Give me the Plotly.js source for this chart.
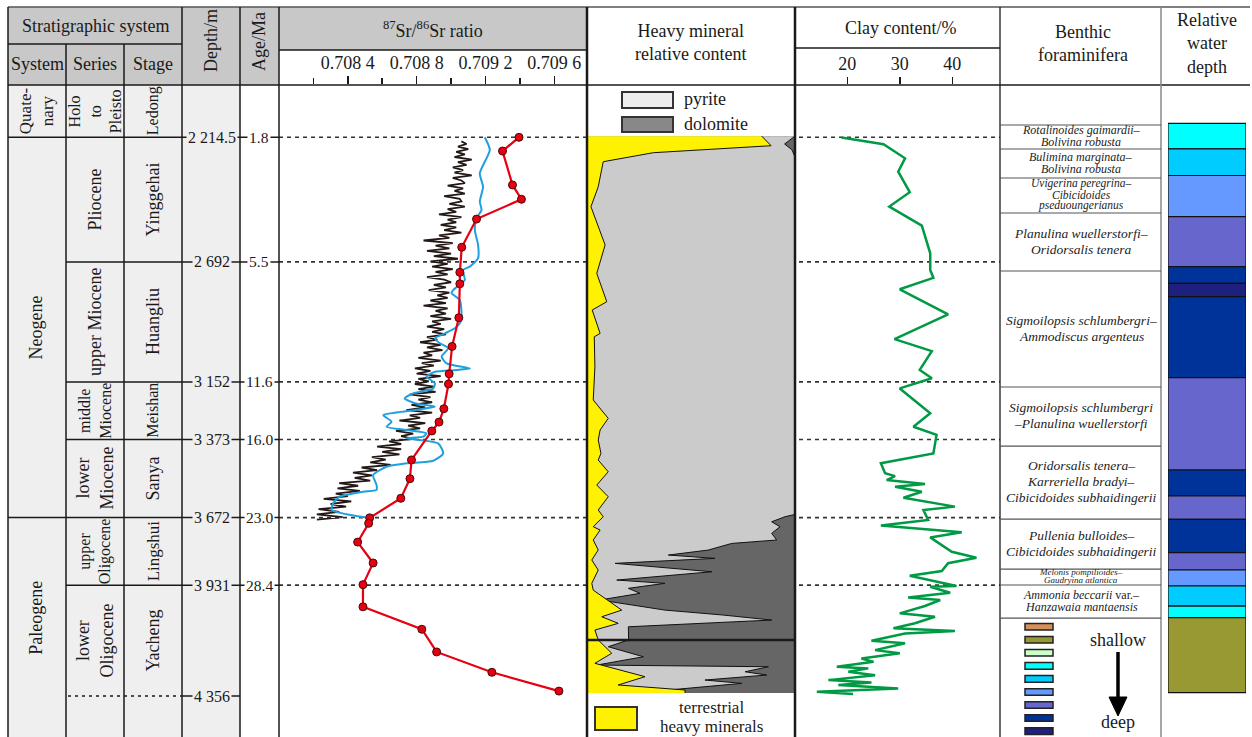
<!DOCTYPE html>
<html><head><meta charset="utf-8">
<script src="https://cdn.plot.ly/plotly-3.0.1.min.js"></script>
<style>html,body{margin:0;padding:0;background:#fff}#chart{width:1252px;height:737px}</style>
</head><body><div id="chart"></div>
<script>
// ---------------- DATA ----------------
const horizonDepth = [2214.5, 2692, 3152, 3373, 3672, 3931];
const horizonAge = [1.8, 5.5, 11.6, 16.0, 23.0, 28.4];
const baseDepth = 4356;

const systemNames = ['Quate-<br>nary', 'Neogene', 'Paleogene'];
const systemTops = [2014, 2214.5, 3672];
const systemBottoms = [2214.5, 3672, 4440];
const seriesNames = ['Holo<br>to<br>Pleisto', 'Pliocene', 'upper Miocene', 'middle<br>Miocene', 'lower<br>Miocene', 'upper<br>Oligocene', 'lower<br>Oligocene'];
const stageNames = ['Ledong', 'Yinggehai', 'Huangliu', 'Meishan', 'Sanya', 'Lingshui', 'Yacheng'];
const unitTops = [2014, 2214.5, 2692, 3152, 3373, 3672, 3931];
const unitBottoms = [2214.5, 2692, 3152, 3373, 3672, 3931, 4356];

const srTickVals = [0.7084, 0.7088, 0.7092, 0.7096];
const srMinorVals = [0.7082, 0.7086, 0.7090, 0.7094];

const srBlackDepth = [
2230,2240,2250,2260,2270,2280,2290,2300,2310,2320,
2330,2340,2350,2360,2370,2380,2390,2400,2410,2420,
2430,2440,2450,2460,2470,2480,2490,2500,2510,2520,
2530,2540,2550,2560,2570,2580,2590,2600,2610,2620,
2630,2640,2650,2660,2670,2680,2690,2700,2710,2720,
2730,2740,2750,2760,2770,2780,2790,2800,2810,2820,
2830,2840,2850,2860,2870,2880,2890,2900,2910,2920,
2930,2940,2950,2960,2970,2980,2990,3000,3010,3020,
3030,3040,3050,3060,3070,3080,3090,3100,3110,3120,
3130,3140,3150,3160,3170,3180,3190,3200,3210,3220,
3230,3240,3250,3260,3270,3280,3290,3300,3310,3320,
3330,3340,3350,3360,3370,3380,3390,3400,3410,3420,
3430,3440,3450,3460,3470,3480,3490,3500,3510,3520,
3530,3540,3550,3560,3570,3580,3590,3600,3610,3620,
3630,3640,3650,3660,3670,3680];
const srBlackRatio = [
0.70906,0.70909,0.70904,0.70910,0.70903,0.70908,0.70902,0.70912,0.70904,0.70909,
0.70901,0.70907,0.70902,0.70912,0.70901,0.70906,0.70908,0.70898,0.70907,0.70902,
0.70908,0.70896,0.70905,0.70906,0.70899,0.70908,0.70898,0.70903,0.70893,0.70906,
0.70898,0.70903,0.70894,0.70903,0.70896,0.70906,0.70893,0.70899,0.70884,0.70901,
0.70891,0.70899,0.70886,0.70900,0.70890,0.70904,0.70888,0.70898,0.70889,0.70901,
0.70891,0.70898,0.70886,0.70896,0.70900,0.70890,0.70897,0.70887,0.70899,0.70892,
0.70898,0.70888,0.70897,0.70884,0.70898,0.70891,0.70897,0.70888,0.70900,0.70889,
0.70894,0.70886,0.70896,0.70889,0.70897,0.70886,0.70892,0.70882,0.70894,0.70886,
0.70895,0.70884,0.70889,0.70881,0.70894,0.70883,0.70890,0.70879,0.70888,0.70880,
0.70894,0.70881,0.70887,0.70879,0.70890,0.70881,0.70891,0.70876,0.70888,0.70881,
0.70889,0.70877,0.70885,0.70874,0.70889,0.70876,0.70882,0.70870,0.70885,0.70875,
0.70882,0.70868,0.70878,0.70871,0.70878,0.70864,0.70871,0.70857,0.70871,0.70860,
0.70870,0.70854,0.70862,0.70853,0.70865,0.70848,0.70857,0.70843,0.70854,0.70844,
0.70853,0.70835,0.70846,0.70834,0.70847,0.70833,0.70840,0.70826,0.70842,0.70830,
0.70839,0.70823,0.70835,0.70822,0.70837,0.70822];

const srBlueDepth = [2214.5,2263,2352.5,2404,2461,2493,2525,2570,2627,2678,2710,2723,2761.5,2774,2800,2812.5,2838,2902,2927.5,2946.5,2966,2985,3004,3023,3055,3081,3100,3106.5,3113,3132,3157.5,3177,3196,3215,3234,3247,3260,3279,3304.5,3324,3336.5,3349,3362,3368,3387.5,3426,3454,3464,3477,3509,3547,3566,3573,3592,3617,3643,3659.5,3672];
const srBlueRatio = [0.709196,0.709225,0.709167,0.709186,0.709167,0.709177,0.709148,0.709138,0.709157,0.709157,0.709109,0.70907,0.70908,0.709061,0.709012,0.709003,0.709051,0.709061,0.709051,0.709022,0.708964,0.708906,0.708935,0.708983,0.708945,0.708974,0.709109,0.709032,0.708906,0.708857,0.708906,0.708896,0.70878,0.708731,0.70879,0.708906,0.70879,0.708606,0.708654,0.708625,0.708741,0.708857,0.708838,0.708741,0.708925,0.708954,0.708896,0.708741,0.708625,0.708547,0.708567,0.708567,0.708489,0.708354,0.708315,0.708306,0.708393,0.708509];

const srRedDepth = [2214.5,2267,2397,2452,2528,2636,2732,2776,2906,3016,3121,3160,3255,3306,3340,3451,3523,3598,3673,3694,3766,3846,3929,4014,4100,4187,4265,4337];
const srRedRatio = [0.709395,0.709299,0.709357,0.709409,0.709148,0.709062,0.709051,0.709051,0.709045,0.709006,0.708989,0.708985,0.708958,0.70893,0.708888,0.70877,0.708761,0.708708,0.708527,0.708521,0.708457,0.708547,0.708488,0.708488,0.70883,0.708916,0.709237,0.709627];

const terrDepth = [2210,2246.7,2273.5,2308,2404,2480.5,2627,2736,2844.6,2876.5,2966,2979,3094,3221.5,3291.6,3336.4,3374.8,3425.8,3451.5,3496.3,3547.3,3592,3643,3668.7,3707,3719.7,3758,3796.3,3834.6,3873,3924,3950,4026.6,4052,4077.4,4103,4141,4192,4230.6,4281.8,4313.6,4332.8,4344];
const terrPct = [84,88.5,31.9,7.8,5.4,1.9,8.7,4.7,9.5,2.5,6.3,3.5,3.8,3.0,10.2,6.3,5.4,6.7,5.4,10.2,4.7,10.2,5.4,7.8,3.0,6.3,3.0,5.4,2.3,5.4,2.3,3.0,16.7,7.1,15.0,3.8,5.4,11.9,3.8,27.9,15.0,47.1,47.1];
const dolDepth = [2210,2218,2240,2262,2290,3660,3668.7,3688,3707,3732.5,3758,3771,3796.5,3815.6,3828.3,3847.5,3879.7,3911.5,3924,3943.2,3962.4,3988,4026.6,4045.6,4064.8,4090.5,4128.8,4141,4167,4205.4,4237.3,4243.7,4262.9,4275.5,4294.7,4307.4,4333,4344];
const dolPct = [0,1.5,5,1.5,0,0,4.8,11.2,7.2,11.2,8.8,30.4,41.7,60.9,38.5,86.5,40.0,85.7,62.5,80.1,74.5,93.8,62.5,34.5,11.2,80.1,80.1,80,89.8,72.9,95.3,12.8,24.0,13.6,43.3,25.6,60.9,61];
const mineralBreakDepth = [4141];

const clayTicks = [20, 30, 40];
const clayDepth = [2215,2241,2295,2346,2425,2480,2553,2659,2723,2753,2797,2893,2988,3034,3106,3138,3177,3272,3324,3355,3426,3464,3502,3513,3528,3543,3554,3573,3596,3630,3643,3681,3702,3728,3748,3803,3826,3847,3877,3895,3934,3937,3960,3978,3988,4011,4039,4052,4077,4096,4107,4116,4144,4154,4180,4192,4212,4225,4244,4250,4263,4276,4295,4304,4314,4327,4340,4348];
const clayValue = [18.9,26.9,31.0,29.7,31.9,28.0,34.2,35.8,35.8,36.4,30.0,39.2,29.0,36.1,33.8,36.1,30.0,35.8,32.6,37.0,36.4,26.4,27.2,29.1,27.5,34.8,29.1,34.2,30.7,40.5,34.5,35.4,26.4,41.8,35.8,39.9,44.6,39.2,38.0,31.9,40.8,35.8,39.6,31.6,37.7,34.8,30.0,36.7,32.9,28.8,40.5,31.0,24.6,31.0,25.3,30.0,22.7,25.0,18.0,24.0,20.2,25.3,16.4,24.6,18.3,29.7,14.2,21.1];

const foramBounds = [2167.4, 2259.3, 2370.5, 2504.6, 2727, 3171.6, 3397.8, 3677.6, 3869.2, 3930.5, 4057];
const foramNames = [
  ['Rotalinoides gaimardii–', 'Bolivina robusta'],
  ['Bulimina marginata–', 'Bolivina robusta'],
  ['Uvigerina peregrina–', 'Cibicidoides', 'pseduoungerianus'],
  ['Planulina wuellerstorfi–', 'Oridorsalis tenera'],
  ['Sigmoilopsis schlumbergri–', 'Ammodiscus argenteus'],
  ['Sigmoilopsis schlumbergri', '–Planulina wuellerstorfi'],
  ['Oridorsalis tenera–', 'Karreriella bradyi–', 'Cibicidoides subhaidingerii'],
  ['Pullenia bulloides–', 'Cibicidoides subhaidingerii'],
  ['Melonis pompilioides–', 'Gaudryina atlantica'],
  ['Ammonia beccarii| var.–', 'Hanzawaia mantaensis']
];

const wdTop = [2160.8, 2258.5, 2360.9, 2518.8, 2710.4, 2774, 2825.4, 3135.2, 3489.7, 3589.3, 3678.7, 3806.7, 3873, 3934.3, 4011, 4055.1];
const wdBottom = [2258.5, 2360.9, 2518.8, 2710.4, 2774, 2825.4, 3135.2, 3489.7, 3589.3, 3678.7, 3806.7, 3873, 3934.3, 4011, 4055.1, 4343.2];
const wdColor = ['#00ffff', '#00ccff', '#6699ff', '#6666cc', '#003399', '#1f1f7f', '#003399', '#6666cc', '#003399', '#6666cc', '#003399', '#6666cc', '#6699ff', '#00ccff', '#00ffff', '#999933'];
const wdLegendColors = ['#d4915a', '#999933', '#ccffcc', '#00ffff', '#00ccff', '#6699ff', '#6666cc', '#003399', '#1f1f7f'];

// ---------------- LAYOUT HELPERS ----------------
const W = 1252, H = 737;
const X = p => p / W;
const Y = p => 1 - p / H;
const FONT = '"Liberation Serif", "Times New Roman", Times, serif';
const INK = '#1a1a1a';
const PX_PER_M = 652 / (4513 - 2014);

const shapes = [];
const annotations = [];
function ln(x0, y0, x1, y1, o) {
  shapes.push(Object.assign({type: 'line', xref: 'paper', yref: 'paper', x0: X(x0), y0: Y(y0), x1: X(x1), y1: Y(y1), line: {color: INK, width: 1.5}, layer: 'above'}, o || {}));
}
function lnD(x0, d, x1, o) {
  shapes.push(Object.assign({type: 'line', xref: 'paper', yref: 'y', x0: X(x0), y0: d, x1: X(x1), y1: d, line: {color: INK, width: 1.5}, layer: 'above'}, o || {}));
}
function rect(x0, y0, x1, y1, fill, o) {
  shapes.push(Object.assign({type: 'rect', xref: 'paper', yref: 'paper', x0: X(x0), y0: Y(y0), x1: X(x1), y1: Y(y1), fillcolor: fill, line: {width: 0}, layer: 'below'}, o || {}));
}
function ann(x, y, text, o) {
  annotations.push(Object.assign({xref: 'paper', yref: 'paper', x: X(x), y: Y(y), text: text, showarrow: false, xanchor: 'center', yanchor: 'middle', font: {family: FONT, size: 18, color: INK}}, o || {}));
}
function annD(x, d, text, o) {
  annotations.push(Object.assign({xref: 'paper', yref: 'y', x: X(x), y: d, text: text, showarrow: false, xanchor: 'center', yanchor: 'middle', font: {family: FONT, size: 18, color: INK}}, o || {}));
}
function fmtDepth(v) {
  const parts = String(v).split('.');
  const i = parts[0];
  const g = i.length > 3 ? i.slice(0, i.length - 3) + ' ' + i.slice(-3) : i;
  return parts.length > 1 ? g + '.' + parts[1] : g;
}
function fmtSr(v) {
  const s = v.toFixed(4);
  return s.slice(0, -1) + ' ' + s.slice(-1);
}

// ---------------- TABLE BACKGROUNDS ----------------
const HEAD = '#c8c8c8';
rect(8, 7, 182, 44, HEAD);
rect(8, 44, 182, 85, HEAD);
rect(182, 7, 240, 85, HEAD);
rect(240, 7, 279, 85, HEAD);
rect(279, 7, 587, 50, HEAD);
rect(8, 85, 240, 737, '#efefef');

// ---------------- HORIZON DOTTED LINES ----------------
horizonDepth.forEach(d => {
  lnD(279, d, 1000, {line: {color: '#333', width: 1.6, dash: '4px,4px'}, layer: 'below'});
});

// ---------------- TABLE LINES ----------------
ln(8, 7, 1250, 7, {line: {color: '#555', width: 1.5}});
ln(8, 44, 182, 44);
ln(8, 85, 1250, 85);
ln(279, 50, 587, 50);
ln(795, 48, 1000, 48);
ln(8, 7, 8, 737);
ln(66, 44, 66, 737);
ln(124, 44, 124, 737);
ln(182, 7, 182, 737);
ln(240, 7, 240, 737);
ln(279, 7, 279, 737);
ln(587, 7, 587, 737, {line: {color: INK, width: 2.5}});
ln(795, 7, 795, 737, {line: {color: INK, width: 2.5}});
ln(1000, 7, 1000, 737, {line: {color: INK, width: 1.3}});
ln(1161, 7, 1161, 737, {line: {color: '#888', width: 1.5}});

horizonDepth.forEach(d => {
  const full = (d === systemBottoms[0] || d === systemBottoms[1]);
  lnD(full ? 8 : 66, d, 279);
});
lnD(68, baseDepth, 182, {line: {color: INK, width: 1.5, dash: '3px,4px'}});
lnD(182, baseDepth, 240);

horizonDepth.forEach((d, i) => {
  annD(212, d, fmtDepth(d), {font: {family: FONT, size: 16, color: INK}, bgcolor: '#efefef', borderpad: 1});
  annD(259, d, horizonAge[i].toFixed(1), {font: {family: FONT, size: 15.5, color: INK}, bgcolor: '#ffffff', borderpad: 1});
});
annD(212, baseDepth, fmtDepth(baseDepth), {font: {family: FONT, size: 16, color: INK}, bgcolor: '#efefef', borderpad: 1});

// ---------------- HEADER TEXT ----------------
ann(95, 26, 'Stratigraphic system');
ann(37, 64, 'System');
ann(95, 64, 'Series');
ann(153, 64, 'Stage');
ann(211, 41, 'Depth/m', {textangle: -90});
ann(259, 42, 'Age/Ma', {textangle: -90});
ann(433, 29, '<sup>87</sup>Sr/<sup>86</sup>Sr ratio');
ann(690, 43, 'Heavy mineral<br>relative content');
ann(900, 28, 'Clay content/%');
ann(1083, 44, 'Benthic<br>foraminifera');
ann(1207, 44, 'Relative<br>water<br>depth');

// ---------------- STRAT COLUMN LABELS ----------------
const sysFont = [17, 18, 18];
systemNames.forEach((n, i) => {
  annD(36, (systemTops[i] + systemBottoms[i]) / 2, n, {textangle: -90, font: {family: FONT, size: sysFont[i], color: INK}});
});
const serFont = [16, 18, 18, 16, 18, 16, 18];
const stgFont = [16, 18, 18, 16, 18, 17, 18];
seriesNames.forEach((n, i) => {
  annD(95, (unitTops[i] + unitBottoms[i]) / 2, n, {textangle: -90, font: {family: FONT, size: serFont[i], color: INK}});
  annD(153, (unitTops[i] + unitBottoms[i]) / 2, stageNames[i], {textangle: -90, font: {family: FONT, size: stgFont[i], color: INK}});
});

// ---------------- HEAVY MINERAL LEGEND ----------------
rect(622, 92, 673, 108, '#eeeeee', {line: {color: '#333', width: 2}, layer: 'above'});
rect(622, 117, 673, 132, '#888888', {line: {color: '#333', width: 2}, layer: 'above'});
ann(682, 99, 'pyrite', {xanchor: 'left'});
ann(682, 124, 'dolomite', {xanchor: 'left'});
rect(595, 707, 637, 730, '#fff200', {line: {color: '#333', width: 2}, layer: 'above'});
ann(712, 707, 'terrestrial', {font: {family: FONT, size: 17, color: INK}});
ann(712, 726, 'heavy minerals', {font: {family: FONT, size: 17, color: INK}});
mineralBreakDepth.forEach(d => lnD(587, d, 795, {line: {color: INK, width: 2.5}}));

// ---------------- FORAMINIFERA ----------------
foramBounds.forEach(d => lnD(1000, d, 1161, {line: {color: '#555', width: 1.2}}));
foramNames.forEach((lines, i) => {
  const top = foramBounds[i], bot = foramBounds[i + 1];
  const h = (bot - top) * PX_PER_M;
  let sp, fs;
  if (h < 20) { sp = 8.5; fs = 9; }
  else if (h < 40) { sp = lines.length > 2 ? 11 : 12; fs = lines.length > 2 ? 11.5 : 12; }
  else { sp = 16; fs = 13.5; }
  const mid = (top + bot) / 2;
  lines.forEach((t, j) => {
    let txt;
    if (t.indexOf('|') >= 0) {
      const p = t.split('|');
      txt = '<i>' + p[0] + '</i>' + p[1];
    } else {
      txt = '<i>' + t + '</i>';
    }
    annD(1081, mid, txt, {yshift: -((j - (lines.length - 1) / 2) * sp) + 1, font: {family: FONT, size: fs, color: '#222'}});
  });
});

wdLegendColors.forEach((c, i) => {
  const cy = 626.7 + i * 13.05;
  rect(1025, cy - 3.3, 1053, cy + 3.3, c, {line: {color: '#222', width: 1.5}, layer: 'above'});
});
ann(1118, 640, 'shallow');
ann(1118, 722, 'deep');
ln(1118, 652, 1118, 700, {line: {color: '#000', width: 3.5}});
shapes.push({type: 'path', xref: 'paper', yref: 'paper', path: `M ${X(1109)},${Y(697)} L ${X(1127)},${Y(697)} L ${X(1118)},${Y(716)} Z`, fillcolor: '#000', line: {color: '#000', width: 1}, layer: 'above'});

// ---------------- TRACES ----------------
const traces = [];
traces.push({type: 'scatter', mode: 'lines', x: srBlackRatio, y: srBlackDepth, xaxis: 'x', yaxis: 'y', line: {color: '#231815', width: 1.8}, hoverinfo: 'skip'});
traces.push({type: 'scatter', mode: 'lines', x: srBlueRatio, y: srBlueDepth, xaxis: 'x', yaxis: 'y', line: {color: '#1ea0e0', width: 2, shape: 'spline', smoothing: 0.6}, hoverinfo: 'skip'});
traces.push({type: 'scatter', mode: 'lines+markers', x: srRedRatio, y: srRedDepth, xaxis: 'x', yaxis: 'y', line: {color: '#e60012', width: 2.2}, marker: {size: 8, color: '#e60012', line: {color: '#4a0a0a', width: 1}}, hoverinfo: 'skip'});

traces.push({type: 'scatter', mode: 'lines', x: [100, 100], y: [dolDepth[0], dolDepth[dolDepth.length - 1]], xaxis: 'x2', yaxis: 'y', fill: 'tozerox', fillcolor: '#666666', line: {width: 0}, hoverinfo: 'skip'});
traces.push({type: 'scatter', mode: 'lines', x: dolPct.map(v => 100 - v), y: dolDepth, xaxis: 'x2', yaxis: 'y', fill: 'tozerox', fillcolor: '#cbcbcb', line: {color: '#111', width: 1}, hoverinfo: 'skip'});
traces.push({type: 'scatter', mode: 'lines', x: terrPct, y: terrDepth, xaxis: 'x2', yaxis: 'y', fill: 'tozerox', fillcolor: '#fff200', line: {color: '#111', width: 1}, hoverinfo: 'skip'});

traces.push({type: 'scatter', mode: 'lines', x: clayValue, y: clayDepth, xaxis: 'x3', yaxis: 'y', line: {color: '#009944', width: 2.5}, hoverinfo: 'skip'});

traces.push({type: 'bar', x: wdTop.map(() => 0.5), y: wdTop.map((t, i) => wdBottom[i] - t), base: wdTop, width: 1, xaxis: 'x4', yaxis: 'y', marker: {color: wdColor, line: {color: '#111', width: 1.2}}, hoverinfo: 'skip'});

const layout = {
  width: W, height: H,
  margin: {l: 0, r: 0, t: 0, b: 0, pad: 0},
  paper_bgcolor: '#ffffff',
  plot_bgcolor: 'rgba(0,0,0,0)',
  showlegend: false,
  barmode: 'overlay',
  font: {family: FONT, color: INK},
  yaxis: {domain: [0, Y(85)], range: [4513, 2014], visible: false, fixedrange: true},
  xaxis: {
    domain: [X(279), X(587)], range: [0.7080, 0.70979], anchor: 'y', side: 'top',
    tickmode: 'array', tickvals: srTickVals, ticktext: srTickVals.map(fmtSr),
    ticks: 'outside', ticklen: 8, tickwidth: 1.5, tickcolor: INK,
    tickfont: {family: FONT, size: 18, color: INK},
    minor: {tickmode: 'array', tickvals: srMinorVals, ticks: 'outside', ticklen: 6, tickwidth: 1.5, tickcolor: INK, showgrid: false},
    showgrid: false, zeroline: false, showline: false, fixedrange: true
  },
  xaxis2: {domain: [X(587), X(795)], range: [0, 100], anchor: 'y', visible: false, fixedrange: true},
  xaxis3: {
    domain: [X(795), X(1000)], range: [10.04, 49.09], anchor: 'y', side: 'top',
    tickmode: 'array', tickvals: clayTicks, ticktext: clayTicks.map(String),
    ticks: 'outside', ticklen: 7, tickwidth: 1.5, tickcolor: INK,
    tickfont: {family: FONT, size: 18, color: INK},
    showgrid: false, zeroline: false, showline: false, fixedrange: true
  },
  xaxis4: {domain: [X(1168), X(1246)], range: [0, 1], anchor: 'y', visible: false, fixedrange: true},
  shapes: shapes,
  annotations: annotations
};

Plotly.newPlot('chart', traces, layout, {staticPlot: true, displayModeBar: false});
</script>
</body></html>
